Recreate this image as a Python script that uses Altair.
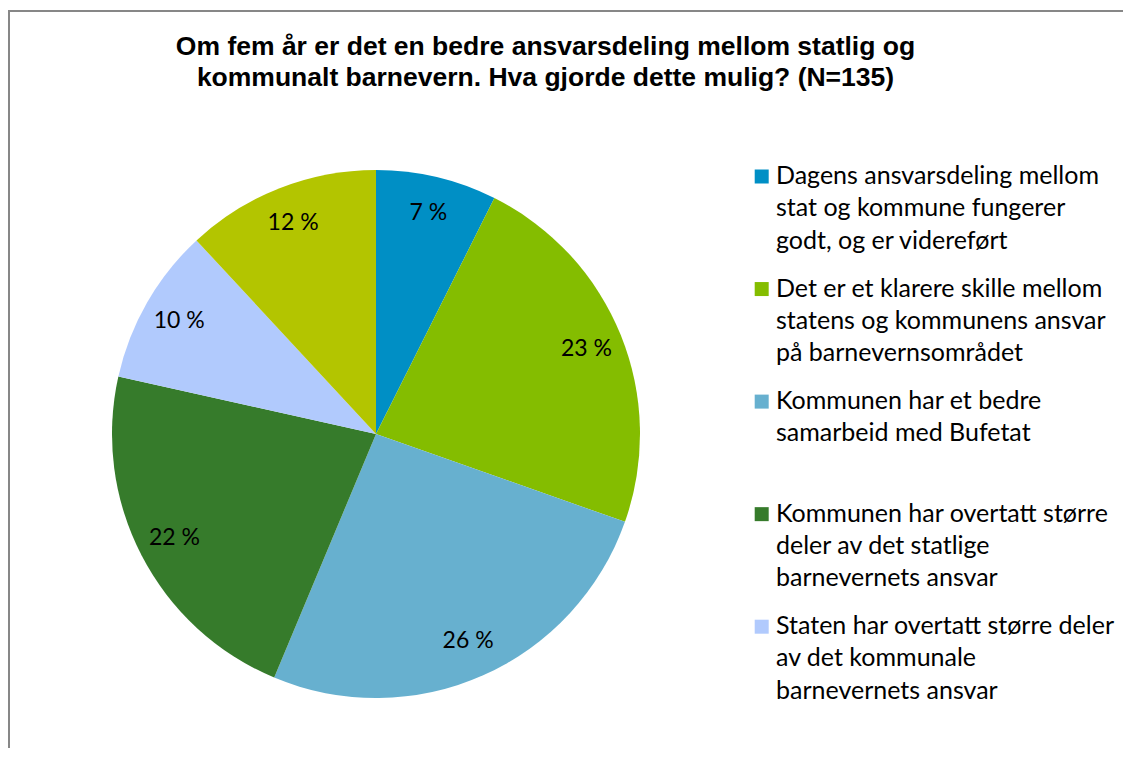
import altair as alt
import pandas as pd

title_lines = [
    "Om fem år er det en bedre ansvarsdeling mellom statlig og",
    "kommunalt barnevern. Hva gjorde dette mulig? (N=135)",
]

names = [
    "Dagens ansvarsdeling mellom stat og kommune fungerer godt, og er videreført",
    "Det er et klarere skille mellom statens og kommunens ansvar på barnevernsområdet",
    "Kommunen har et bedre samarbeid med Bufetat",
    "Kommunen har overtatt større deler av det statlige barnevernets ansvar",
    "Staten har overtatt større deler av det kommunale barnevernets ansvar",
    "Annet",
]
legend_lines = [
    "Dagens ansvarsdeling mellom|stat og kommune fungerer|godt, og er videreført",
    "Det er et klarere skille mellom|statens og kommunens ansvar|på barnevernsområdet",
    "Kommunen har et bedre|samarbeid med Bufetat",
    "Kommunen har overtatt større|deler av det statlige|barnevernets ansvar",
    "Staten har overtatt større deler|av det kommunale|barnevernets ansvar",
]
pct = [7.4, 23.0, 25.9, 22.2, 9.6, 11.9]
pct_labels = ["7 %", "23 %", "26 %", "22 %", "10 %", "12 %"]
colors = ["#008FC5", "#84BD00", "#67B0CF", "#367B2B", "#B1CAFD", "#B3C500"]

slices = pd.DataFrame({"name": names, "pct": pct, "label": pct_labels, "idx": list(range(len(names)))})
legend_df = pd.DataFrame({"name": names[:5], "text": legend_lines, "idx": list(range(5))})
frame_df = pd.DataFrame({"k": [0]})

W, H, TOP = 1115, 640, 100
cx, cy = 368, 326

color = alt.Color("name:N", scale=alt.Scale(domain=names, range=colors), legend=None)

base = alt.Chart(slices).encode(
    theta=alt.Theta("pct:Q", stack=True),
    order=alt.Order("idx:Q"),
)

pie = base.mark_arc(outerRadius=264).encode(
    color=color, x=alt.value(cx), y=alt.value(cy)
)
labels = base.mark_text(radius=227, font="Lato", fontSize=23).encode(
    text="label:N", color=alt.value("#000000"), x=alt.value(cx), y=alt.value(cy)
)

ly = alt.Y("idx:Q", scale=alt.Scale(domain=[0, 4], range=[68.5, 518.7]), axis=None)

squares = alt.Chart(legend_df).mark_square(size=196, filled=True, opacity=1, strokeWidth=0).encode(
    x=alt.value(753.7), y=ly, color=color
)
legend_text = alt.Chart(legend_df).mark_text(
    align="left", baseline="alphabetic", dy=7.5, font="Lato", fontSize=25,
    lineBreak="|", lineHeight=32.3, color="#000000",
).encode(x=alt.value(768), y=ly, text="text:N")

top_rule = alt.Chart(frame_df).mark_rule(color="#878787", strokeWidth=2).encode(
    x=alt.value(0), x2=alt.value(W), y=alt.value(-97)
)
left_rule = alt.Chart(frame_df).mark_rule(color="#878787", strokeWidth=2).encode(
    x=alt.value(1), y=alt.value(-97), y2=alt.value(H)
)

chart = alt.layer(pie, labels, squares, legend_text, top_rule, left_rule).properties(
    width=W,
    height=H,
    padding={"left": 0, "top": TOP, "right": 0, "bottom": 0},
    autosize=alt.AutoSizeParams(type="none"),
    title=alt.Title(
        title_lines, font="Liberation Sans", fontSize=26.5, fontWeight="bold",
        lineHeight=31, anchor="middle", dx=-20, dy=102, offset=0,
        baseline="alphabetic", color="#000000",
    ),
    background="#ffffff",
).configure_view(stroke=None)

chart.save("out.html", embed_options={"renderer": "svg", "actions": False})
